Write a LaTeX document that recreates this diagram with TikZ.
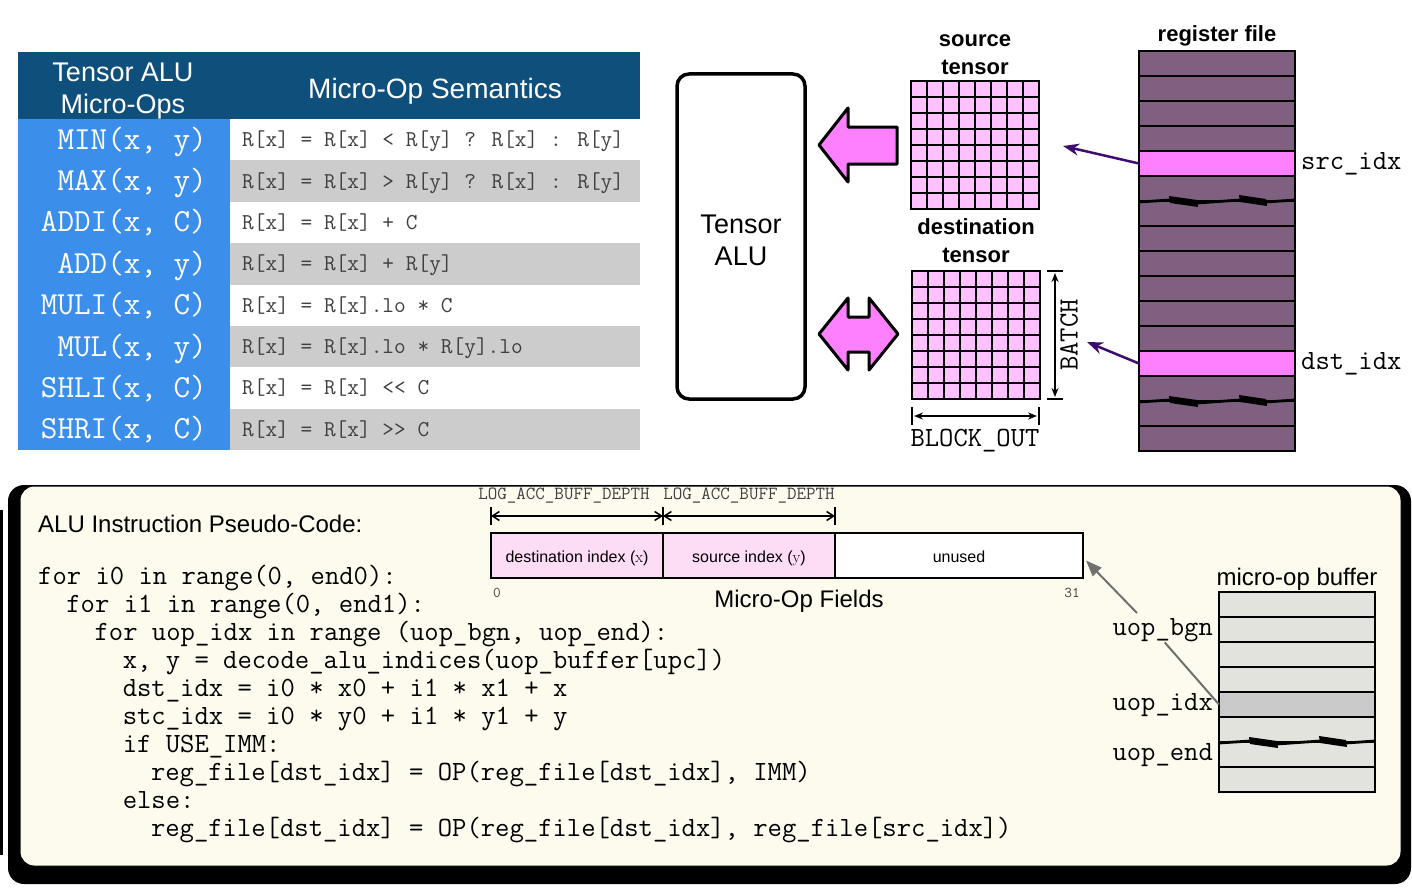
\documentclass[tikz,border=0pt]{standalone}
\usepackage{fontspec}
\setsansfont{Liberation Sans}
\usepackage{tikz}
\usetikzlibrary{positioning,arrows.meta}

\definecolor{hdrblue}{RGB}{15,79,124}
\definecolor{opblue}{RGB}{59,142,234}
\definecolor{rowgray}{RGB}{204,204,204}
\definecolor{semtext}{RGB}{64,64,64}
\definecolor{hotpink}{RGB}{255,128,255}
\definecolor{cellpink}{RGB}{255,192,255}
\definecolor{regpurple}{RGB}{128,96,128}
\definecolor{ptrpurple}{RGB}{60,12,110}
\definecolor{panelcream}{RGB}{253,251,238}
\definecolor{fieldpink}{RGB}{253,221,245}
\definecolor{bufgray}{RGB}{227,227,222}
\definecolor{bufsel}{RGB}{202,202,202}
\definecolor{ptrgray}{RGB}{112,112,112}

% zigzag break drawn across a 156 wide column, left end at (#1,#2)
\newcommand{\brkmark}[2]{%
  \draw[line width=2.8pt] (#1,{#2+1}) -- ({#1+31},{#2-1}) ({#1+58},{#2+2}) -- ({#1+101},{#2-1})
    ({#1+127},{#2+1}) -- ({#1+156},{#2-1});
  \fill ({#1+30},{#2-5}) -- ({#1+58},{#2-1}) -- ({#1+59},{#2+6}) -- ({#1+31},{#2+2}) -- cycle;
  \fill ({#1+100},{#2-6}) -- ({#1+127},{#2-2}) -- ({#1+128},{#2+5}) -- ({#1+101},{#2+1}) -- cycle;}

\begin{document}
\begin{tikzpicture}[x=1pt, y=-1pt,
  opname/.style={anchor=mid east, text=white, font=\fontsize{32.2}{38}\selectfont\ttfamily, inner sep=0pt},
  semtxt/.style={anchor=mid west, text=semtext, font=\fontsize{22.7}{27}\selectfont\ttfamily, inner sep=0pt},
  hdr/.style={text=white, align=center, font=\fontsize{27}{32}\selectfont\sffamily, inner sep=0pt},
  tlabel/.style={align=center, font=\fontsize{22}{28}\selectfont\sffamily\bfseries, inner sep=0pt},
  sflabel/.style={font=\fontsize{24}{28}\selectfont\sffamily, inner sep=0pt},
  mono/.style={font=\fontsize{27.8}{32}\selectfont\ttfamily, inner sep=0pt},
  codeln/.style={anchor=base west, font=\fontsize{27.85}{28}\selectfont\ttfamily, inner sep=0pt},
  tensor/.style={draw, line width=2pt, fill=cellpink, minimum size=128pt, inner sep=0pt},
  regrow/.style={draw, line width=2pt, fill=regpurple},
  bufrow/.style={draw, line width=2pt, fill=bufgray},
  rowbox/.style={draw, line width=2pt, minimum width=156pt, minimum height=25pt,
                 inner sep=0pt, outer sep=0pt, anchor=north west},
  blockarrow/.style={draw, line width=3pt, fill=hotpink, line join=round},
  ptr/.style={-{Stealth[length=16pt, width=12pt]}, line width=2.5pt, ptrpurple},
  gptr/.style={-{Triangle[length=16pt, width=12pt]}, line width=2pt, ptrgray},
  dimline/.style={{Stealth[length=9pt, width=7pt]}-{Stealth[length=9pt, width=7pt]}, line width=2.5pt},
  fielddim/.style={{Straight Barb[length=7pt, width=9pt]}-{Straight Barb[length=7pt, width=9pt]}, line width=1.5pt},
  field/.style={draw, line width=2pt, minimum height=45pt, inner sep=0pt, outer sep=0pt,
                text height=16pt, text depth=3pt, font=\fontsize{16}{19}\selectfont\sffamily}]
\useasboundingbox (0,0) rectangle (1412,888);

% micro-op table
\fill[hdrblue] (18,52) rectangle (640,119);
\fill[opblue] (18,119) rectangle (230,450);
\foreach \r in {1,3,5,7}
  \fill[rowgray] (230,{119+41.375*\r}) rectangle (640,{119+41.375*(\r+1)});
\node[hdr] (ophdr) at (123,91) {Tensor ALU\\Micro-Ops};
\node[hdr, font=\fontsize{28}{32}\selectfont\sffamily] (semhdr) at (435,91) {Micro-Op Semantics};
\foreach \op/\sem [count=\i from 0] in {
    {MIN(x, y)}/{R[x] = R[x] < R[y] ? R[x] : R[y]},
    {MAX(x, y)}/{R[x] = R[x] > R[y] ? R[x] : R[y]},
    {ADDI(x, C)}/{R[x] = R[x] + C},
    {ADD(x, y)}/{R[x] = R[x] + R[y]},
    {MULI(x, C)}/{R[x] = R[x].lo * C},
    {MUL(x, y)}/{R[x] = R[x].lo * R[y].lo},
    {SHLI(x, C)}/{R[x] = R[x] << C},
    {SHRI(x, C)}/{R[x] = R[x] >> C}} {
  \node[opname] (op\i) at (207,{147+41.375*\i}) {\op};
  \node[semtxt] (sem\i) at (242,{144.5+41.375*\i}) {\sem};
}

% tensor ALU and its operands
\node[draw, line width=3.5pt, rounded corners=12pt, minimum width=128pt, minimum height=325pt] (alu) at (741,236.5) {};
\node[align=center, font=\fontsize{27}{32}\selectfont\sffamily, inner sep=0pt] (alutext)
  at ([yshift=-3.5pt]alu.center) {Tensor\\ALU};
\draw[blockarrow] (819,145) -- (848,108) -- (848,127) -- (897,127) -- (897,164)
  -- (848,164) -- (848,182) -- cycle;
\draw[blockarrow] (819,334) -- (848,298) -- (848,317) -- (869,317) -- (869,298) -- (898,334)
  -- (869,370) -- (869,352) -- (848,352) -- (848,370) -- cycle;

\node[tensor] (srcgrid) at (975,145) {};
\node[tensor] (dstgrid) at (976,335) {};
\foreach \k in {1,...,7} {
  \draw[line width=2pt] ({911+16*\k},81) -- ++(0,128) (911,{81+16*\k}) -- ++(128,0);
  \draw[line width=2pt] ({912+16*\k},271) -- ++(0,128) (912,{271+16*\k}) -- ++(128,0);
}
\node[tlabel, above=5pt of srcgrid] (srclbl) {source\\tensor};
\node[tlabel, above=7pt of dstgrid] (dstlbl) {destination\\tensor};

\draw[line width=2.5pt] (1047,271) -- (1063,271) (1047,399) -- (1063,399);
\draw[dimline] (1055,273) -- (1055,397);
\node[mono, rotate=90] (batchlbl) at (1069,335) {BATCH};
\draw[line width=2.5pt] (912,407) -- (912,425) (1039,407) -- (1039,425);
\draw[dimline] (914,416) -- (1037,416);
\node[mono] (blocklbl) at (975,441) {BLOCK\_OUT};

% register file
\foreach \r in {0,...,15}
  \draw[regrow] (1139,{51+25*\r}) rectangle (1295,{76+25*\r});
\node[rowbox, fill=hotpink] (srcreg) at (1139,151) {};
\node[rowbox, fill=hotpink] (dstreg) at (1139,351) {};
\brkmark{1139}{201}
\brkmark{1139}{401}
\node[tlabel] (reglbl) at (1217,36) {register file};
\node[mono, right=6pt of srcreg] (srcidx) {src\_idx};
\node[mono, right=6pt of dstreg] (dstidx) {dst\_idx};
\coordinate (srcptr) at (1063,146);
\coordinate (dstptr) at (1087,342);
\draw[ptr] (srcreg.west) -- (srcptr);
\draw[ptr] (dstreg.west) -- (dstptr);

% pseudo-code panel
\fill (0,510) rectangle (3,855);
\fill[rounded corners=16pt] (8,485) rectangle (1411,884);
\filldraw[fill=panelcream, draw=black, line width=1pt, rounded corners=14pt] (20,486) rectangle (1401,866);
\node[sflabel, anchor=west] (codetitle) at (38,524) {ALU Instruction Pseudo-Code:};
\foreach \ind/\ln [count=\i from 0] in {
    0/{for i0 in range(0, end0):},
    2/{for i1 in range(0, end1):},
    4/{for uop\_idx in range (uop\_bgn, uop\_end):},
    6/{x, y = decode\_alu\_indices(uop\_buffer[upc])},
    6/{dst\_idx = i0 * x0 + i1 * x1 + x},
    6/{stc\_idx = i0 * y0 + i1 * y1 + y},
    6/{if USE\_IMM:},
    8/{reg\_file[dst\_idx] = OP(reg\_file[dst\_idx], IMM)},
    6/{else:},
    8/{reg\_file[dst\_idx] = OP(reg\_file[dst\_idx], reg\_file[src\_idx])}}
  \node[codeln] (code\i) at ({38+14.1*\ind},{584+28*\i}) {\ln};

% micro-op fields
\node[field, fill=fieldpink, minimum width=172pt] (dstfld) at (577,555.5) {destination index ({\rmfamily x})};
\node[field, fill=fieldpink, minimum width=172pt, right=0pt of dstfld] (srcfld) {source index ({\rmfamily y})};
\node[field, fill=white, minimum width=248pt, right=0pt of srcfld] (nofld) {unused};
\foreach \f/\dx in {dstfld/-13, srcfld/0} {
  \draw[line width=1.5pt] ([yshift=8pt]\f.north west) -- ([yshift=26pt]\f.north west);
  \draw[fielddim] ([yshift=17pt]\f.north west) -- ([yshift=17pt]\f.north east);
  \node[font=\fontsize{18.5}{20}\selectfont\ttfamily, text=semtext, inner sep=0pt]
    at ([xshift=\dx pt, yshift=37pt]\f.north) {LOG\_ACC\_BUFF\_DEPTH};
}
\draw[line width=1.5pt] ([yshift=8pt]srcfld.north east) -- ([yshift=26pt]srcfld.north east);
\node[font=\fontsize{15}{17}\selectfont\ttfamily, text=semtext] (bit0) at (497,593) {0};
\node[font=\fontsize{15}{17}\selectfont\ttfamily, text=semtext] (bit31) at (1072,593) {31};
\node[sflabel] (fldlbl) at (799,601) {Micro-Op Fields};

% micro-op buffer
\foreach \r in {0,...,7}
  \draw[bufrow] (1219,{592+25*\r}) rectangle (1375,{617+25*\r});
\node[rowbox, fill=bufsel] (idxrow) at (1219,692) {};
\brkmark{1219}{742}
\node[sflabel] (buflbl) at (1297,579) {micro-op buffer};
\node[mono, anchor=east] (bgnlbl) at (1213,630.5) {uop\_bgn};
\node[mono, anchor=east] (idxlbl) at (1213,705.5) {uop\_idx};
\node[mono, anchor=east] (endlbl) at (1213,755.5) {uop\_end};
\coordinate (bgntail) at (1137,613);
\draw[gptr] (bgntail) -- ([xshift=3pt,yshift=-5pt]nofld.east);
\draw[line width=2pt, ptrgray] ([xshift=2pt]bgnlbl.south) -- (idxrow.west);
\end{tikzpicture}
\end{document}
